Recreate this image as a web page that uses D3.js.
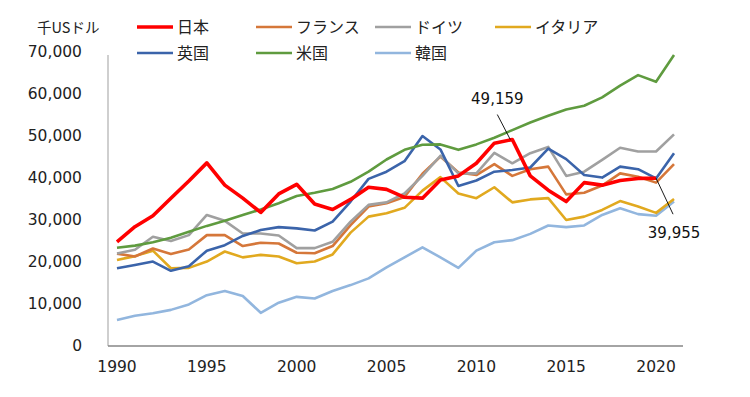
<!DOCTYPE html>
<html><head><meta charset="utf-8">
<script src="https://cdn.jsdelivr.net/npm/d3@7"></script>
<style>body{margin:0;background:#fff;}svg{display:block;} .num{font-family:"DejaVu Sans",Verdana,sans-serif;} .jp{font-family:"Noto Sans CJK JP","Noto Sans",sans-serif;}</style>
</head><body>
<svg id="chart" width="750" height="397"></svg>
<script>
const years = d3.range(1990, 2022);
const yTicks = [0, 10000, 20000, 30000, 40000, 50000, 60000, 70000];
const xTickYears = [1990, 1995, 2000, 2005, 2010, 2015, 2020];
const unitLabel = "千USドル";
const seriesNames = ["日本", "フランス", "ドイツ", "イタリア", "英国", "米国", "韓国"];
const seriesColors = ["#FF0000", "#D5773A", "#A0A0A0", "#E1A91F", "#3B64AA", "#5F9B3F", "#92B6DE"];

const japan = [24800,28400,31000,35200,39300,43600,38300,35200,31800,36200,38500,33800,32500,34900,37800,37300,35400,35200,39500,40500,43500,48300,49159,40500,37100,34400,38900,38300,39400,39900,39955,null];
const france = [22000,21300,23200,21900,23000,26400,26400,23800,24600,24400,22200,22100,23800,28800,33200,34000,35500,41000,45100,41300,40700,43300,40500,42100,42700,36100,36500,38200,41100,40300,38900,43300];
const germany = [22000,22900,26000,25000,26400,31200,29800,26800,26800,26300,23300,23300,24800,29600,33600,34200,36300,40500,45300,41100,41100,46000,43500,45900,47400,40500,41500,44300,47200,46300,46300,50400];
const italy = [20500,21400,22700,18500,18600,20100,22500,21100,21700,21300,19700,20100,21800,27000,30800,31600,32900,37000,40200,36300,35200,37800,34200,34900,35200,30000,30800,32400,34500,33200,31700,35000];
const uk = [18500,19300,20100,17900,19000,22700,24000,26200,27600,28300,28000,27500,29600,34400,39800,41500,44000,50000,46800,38100,39400,41500,41900,42500,47000,44500,40700,40100,42700,42100,39900,45900];
const us = [23400,23900,24700,25800,27200,28600,29800,31200,32500,34000,35700,36500,37400,39100,41500,44400,46700,47900,48000,46700,48000,49600,51400,53200,54800,56300,57200,59200,62000,64500,62900,69300];
const korea = [6200,7200,7800,8600,9900,12100,13100,11900,7900,10300,11700,11300,13100,14500,16100,18700,21100,23500,21100,18600,22700,24700,25200,26700,28700,28300,28700,31200,32800,31400,31000,34400];
const seriesValues = [japan, france, germany, italy, uk, us, korea];
const callouts = [{series: 0, year: 2012, text: "49,159"}, {series: 0, year: 2020, text: "39,955"}];

const svg = d3.select("#chart");

const x = d3.scaleBand().domain(years).range([108, 683]).paddingInner(0).paddingOuter(0);
const xc = yr => x(yr) + x.bandwidth() / 2;
const y = d3.scaleLinear().domain([0, 70000]).range([346, 52]);

// Y axis
const yAxis = d3.axisLeft(y).tickValues(yTicks).tickSize(0).tickPadding(26)
  .tickFormat(d => d3.format(",")(d));
const gy = svg.append("g").attr("transform", "translate(108,0)").call(yAxis);
gy.attr("font-family", null).attr("font-size", null);
gy.select(".domain").attr("stroke", "#BFBFBF").attr("stroke-width", 1.5).attr("d", "M0,55V346");
gy.selectAll("text").attr("class", "num").style("font-size", "15.5px").attr("fill", "#222");

// X axis
const xAxis = d3.axisBottom(x).tickValues(xTickYears).tickSize(0).tickPadding(15);
const gx = svg.append("g").attr("transform", "translate(0,346)").call(xAxis);
gx.attr("font-family", null).attr("font-size", null);
gx.select(".domain").attr("stroke", "#868686").attr("stroke-width", 1.5).attr("d", "M108,0H683");
gx.selectAll("text").attr("class", "num").style("font-size", "15.5px").attr("fill", "#222");

// Lines
const line = d3.line().defined(d => d != null).x((d, i) => xc(years[i])).y(d => y(d));
const order = [6, 3, 1, 2, 4, 5, 0];
order.forEach(si => {
  svg.append("path").datum(seriesValues[si])
    .attr("fill", "none").attr("stroke", seriesColors[si])
    .attr("stroke-width", si === 0 ? 3.6 : 2.6)
    .attr("stroke-linejoin", "round")
    .attr("d", line);
});

// Callouts
const c1 = callouts[0], c2 = callouts[1];
const p1 = [xc(c1.year), y(seriesValues[c1.series][years.indexOf(c1.year)])];
svg.append("line").attr("x1", p1[0] - 2).attr("y1", p1[1]).attr("x2", p1[0] - 15).attr("y2", p1[1] - 25)
  .attr("stroke", "#000").attr("stroke-width", 0.9);
svg.append("text").attr("class", "num").attr("x", p1[0] - 15).attr("y", p1[1] - 36).attr("text-anchor", "middle")
  .style("font-size", "15px").attr("fill", "#111").text(c1.text);
const p2 = [xc(c2.year), y(seriesValues[c2.series][years.indexOf(c2.year)])];
svg.append("line").attr("x1", p2[0]).attr("y1", p2[1]).attr("x2", p2[0] + 17).attr("y2", p2[1] + 36)
  .attr("stroke", "#000").attr("stroke-width", 0.9);
svg.append("text").attr("class", "num").attr("x", p2[0] + 18).attr("y", p2[1] + 60).attr("text-anchor", "middle")
  .style("font-size", "15px").attr("fill", "#111").text(c2.text);

// Unit label
svg.append("text").attr("class", "jp").attr("x", 37).attr("y", 33).style("font-size", "14.5px")
  .attr("fill", "#222").text(unitLabel);

// Legend
const legX = [137, 256, 375, 495];
const legY = [27, 53];
seriesNames.forEach((name, i) => {
  const lx = legX[i % 4], ly = legY[Math.floor(i / 4)];
  svg.append("line").attr("x1", lx).attr("x2", lx + 36).attr("y1", ly).attr("y2", ly)
    .attr("stroke", seriesColors[i]).attr("stroke-width", i === 0 ? 3.6 : 2.6);
  svg.append("text").attr("class", "jp").attr("x", lx + 40).attr("y", ly + 6)
    .style("font-size", "16px").attr("fill", "#222").text(name);
});
</script>
</body></html>
